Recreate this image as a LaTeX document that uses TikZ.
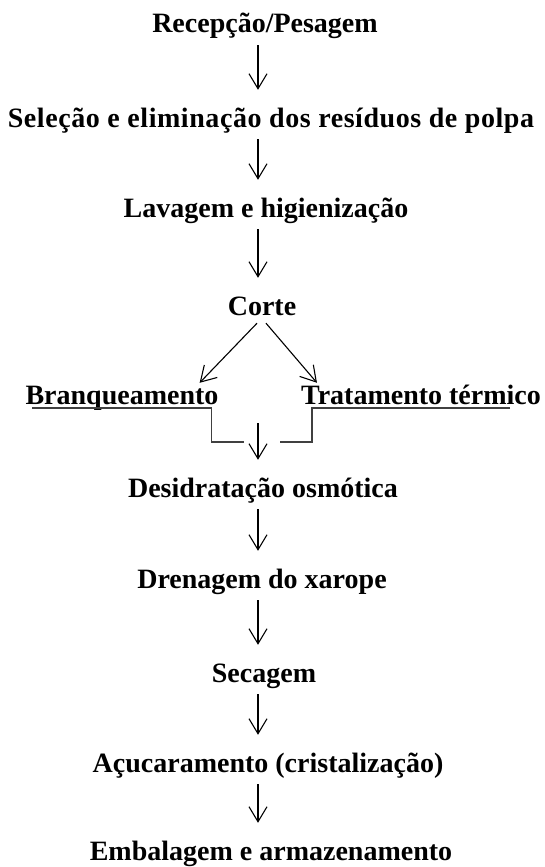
\documentclass[tikz,border=0pt]{standalone}
\usepackage{fontspec}
\setmainfont{Liberation Serif}
\usepackage{tikz}
\usetikzlibrary{arrows.meta}

\begin{document}
\begin{tikzpicture}[x=1pt,y=-1pt,
						stepnode/.style={font=\bfseries\fontsize{28}{32}\selectfont, inner sep=0pt, text height=28pt, text depth=12pt},
						arr/.style={line width=1.1pt, -{Straight Barb[length=15pt,width=18pt]}},
						flow/.style={arr, shorten >=9pt},
						joinline/.style={line width=1.3pt, draw=black!75},
						]
						\useasboundingbox (0,0) rectangle (545,867);
						%Nodes
						\coordinate           (col)	at	(258,0);
						\node[stepnode]       (rec) 	at 	(265,25)	{Recepção/Pesagem};
						\node[stepnode]       (sel) 	at 	(271,119)	{\addfontfeature{LetterSpace=2}Seleção e eliminação dos resíduos de polpa};
						\node[stepnode]       (lav) 	at 	(266,209)	{Lavagem e higienização};
						\node[stepnode]       (cor) 	at 	(262,307)	{Corte};
						\node[stepnode]       (bra) 	at 	(122,396)	{Branqueamento};
						\node[stepnode]       (tra) 	at 	(421,396)	{Tratamento térmico};
						\node[stepnode]       (des) 	at 	(263,489)	{Desidratação osmótica};
						\node[stepnode]       (dre) 	at 	(262,580)	{Drenagem do xarope};
						\node[stepnode]       (sec) 	at 	(264,674)	{Secagem};
						\node[stepnode]       (acu) 	at 	(268,764)	{Açucaramento (cristalização)};
						\node[stepnode]       (emb) 	at 	(271,852)	{Embalagem e armazenamento};
						\coordinate           (jl)	at	(244,442);
						\coordinate           (jr)	at	(280,442);
						\coordinate           (jc)	at	(258,423);

						%Lines
						\draw[flow] (rec.south -| col) -- (sel.north -| col);
						\draw[flow] (sel.south -| col) -- (lav.north -| col);
						\draw[flow] (lav.south -| col) -- (cor.north -| col);

						\draw[arr] ([xshift=-5pt,yshift=4pt]cor.south) -- ([xshift=-19pt,yshift=-7pt]bra.north east);
						\draw[arr] ([xshift=4pt,yshift=4pt]cor.south) -- ([xshift=16pt,yshift=-7pt]tra.north west);

						\draw[joinline] ([xshift=7pt,yshift=-12pt]bra.west) -- ([xshift=-7pt,yshift=-12pt]bra.east) |- (jl);
						\draw[joinline] ([xshift=-31pt,yshift=-12pt]tra.east) -- ([xshift=11pt,yshift=-12pt]tra.west) |- (jr);
						\draw[flow] (jc) -- (des.north -| col);

						\draw[flow] (des.south -| col) -- (dre.north -| col);
						\draw[flow] (dre.south -| col) -- (sec.north -| col);
						\draw[flow] (sec.south -| col) -- (acu.north -| col);
						\draw[flow] (acu.south -| col) -- (emb.north -| col);
					\end{tikzpicture}
\end{document}
